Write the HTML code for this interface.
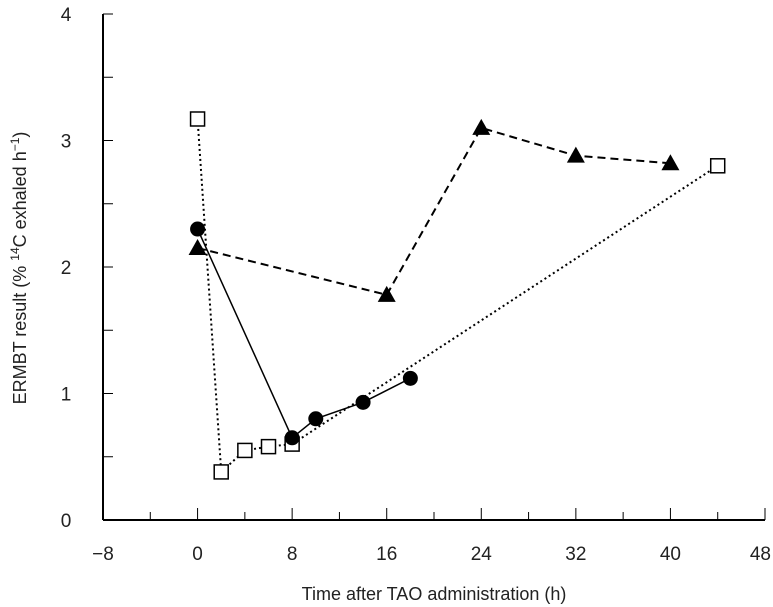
<!DOCTYPE html>
<html><head><meta charset="utf-8"><style>
html,body{margin:0;padding:0;background:#fff;}
svg{display:block;font-family:"Liberation Sans",sans-serif;}
</style></head><body>
<svg id="chart" width="773" height="607"></svg>
<script>
const xTicks=[-8,0,8,16,24,32,40,48];
const yTicks=[0,1,2,3,4];
const circleX=[0,8,10,14,18];
const circleY=[2.3,0.65,0.8,0.93,1.12];
const triX=[0,16,24,32,40];
const triY=[2.15,1.78,3.1,2.88,2.82];
const sqX=[0,2,4,6,8,44];
const sqY=[3.17,0.38,0.55,0.58,0.6,2.8];
const NS="http://www.w3.org/2000/svg";
const svg=document.getElementById('chart');
const x0=103,x1=765,y0=520,y1=14;
const sx=v=>x0+(v+8)/56*(x1-x0);
const sy=v=>y0-v/4*(y0-y1);
function mk(t,a,p){const e=document.createElementNS(NS,t);for(const k in a)e.setAttribute(k,a[k]);(p||svg).appendChild(e);return e;}
const ax=mk('g',{});


mk('line',{x1:x0,y1:y1,x2:x0,y2:y0,stroke:'#000','stroke-width':2},ax);
mk('line',{x1:x0,y1:y0,x2:x1,y2:y0,stroke:'#000','stroke-width':2},ax);
for(let v=-4;v<=48;v+=4){mk('line',{x1:sx(v),y1:y0,x2:sx(v),y2:y0-(v%8===0?12:8),stroke:'#000','stroke-width':1},ax);}
for(let v=0.5;v<=4;v+=0.5){mk('line',{x1:x0,y1:sy(v),x2:x0+10,y2:sy(v),stroke:'#000','stroke-width':1},ax);}
xTicks.forEach((v,i)=>{const last=i===xTicks.length-1;const t=mk('text',{x:last?771:sx(v),y:560,'text-anchor':last?'end':'middle','font-size':19,fill:'#222'});t.textContent=v<0?'\u2212'+(-v):v;

});
yTicks.forEach(v=>{const t=mk('text',{x:66,y:sy(v)+7,'text-anchor':'middle','font-size':19,fill:'#222'});t.textContent=v;

});
const xt=mk('text',{x:434,y:600,'text-anchor':'middle','font-size':18,fill:'#222'});xt.textContent='Time after TAO administration (h)';


const yt=mk('text',{x:0,y:0,'text-anchor':'middle','font-size':18,fill:'#222',transform:'translate(26,268) rotate(-90)'});
yt.innerHTML='ERMBT result (% <tspan font-size="12" dy="-7">14</tspan><tspan dy="7">C exhaled h</tspan><tspan font-size="12" dy="-7">\u22121</tspan><tspan dy="7">)</tspan>';


function line(xs,ys,dash,w,name){const p=mk('polyline',{points:xs.map((v,i)=>sx(v)+','+sy(ys[i])).join(' '),fill:'none',stroke:'#000','stroke-width':w,'stroke-dasharray':dash});

}
line(sqX,sqY,'2,3',2,'squares-line');
line(triX,triY,'8,5',2,'triangles-line');
line(circleX,circleY,'none',1.5,'circles-line');
sqX.forEach((v,i)=>{const r=mk('rect',{x:sx(v)-7,y:sy(sqY[i])-7,width:14,height:14,fill:'#fff',stroke:'#000','stroke-width':1.5});

});
triX.forEach((v,i)=>{const cx=sx(v),cy=sy(triY[i]);const p=mk('polygon',{points:`${cx},${cy-9} ${cx-9},${cy+7} ${cx+9},${cy+7}`,fill:'#000'});

});
circleX.forEach((v,i)=>{const c=mk('circle',{cx:sx(v),cy:sy(circleY[i]),r:7.5,fill:'#000'});

});
</script>
</body></html>
